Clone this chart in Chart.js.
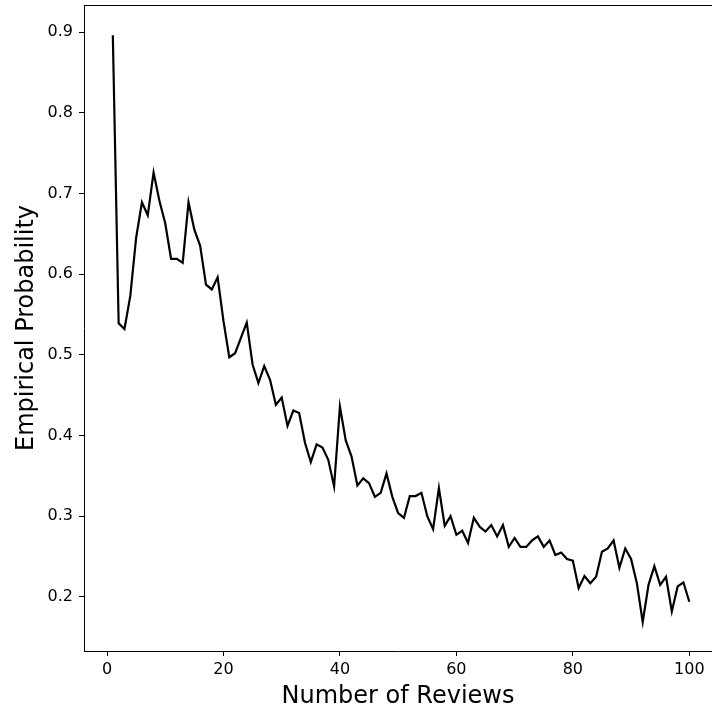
<!DOCTYPE html>
<html>
<head>
<meta charset="UTF-8">
<title>Empirical Probability vs Number of Reviews</title>
<script src="https://cdn.jsdelivr.net/npm/chart.js"></script>
<style>
  html, body { margin: 0; padding: 0; background: #fff; }
  canvas { display: block; }
</style>
</head>
<body>
<canvas id="probChart" width="712" height="714"></canvas>

<script>
    // number of reviews 1..100
    const reviews = [];
    for (let n = 1; n <= 100; n++) reviews.push(n);

    const probability = [
        0.896, 0.539, 0.532, 0.573, 0.645, 0.689, 0.673, 0.726, 0.691, 0.663,
        0.619, 0.619, 0.614, 0.689, 0.655, 0.635, 0.587, 0.581, 0.596, 0.542,
        0.497, 0.502, 0.521, 0.540, 0.488, 0.465, 0.486, 0.469, 0.438, 0.447,
        0.412, 0.431, 0.428, 0.391, 0.367, 0.389, 0.385, 0.370, 0.337, 0.436,
        0.394, 0.374, 0.338, 0.347, 0.341, 0.324, 0.329, 0.353, 0.324, 0.304,
        0.298, 0.325, 0.325, 0.329, 0.300, 0.284, 0.335, 0.288, 0.300, 0.277,
        0.282, 0.267, 0.298, 0.287, 0.281, 0.289, 0.275, 0.289, 0.262, 0.273,
        0.262, 0.262, 0.270, 0.275, 0.262, 0.270, 0.252, 0.255, 0.247, 0.245,
        0.211, 0.226, 0.217, 0.225, 0.256, 0.260, 0.270, 0.236, 0.260, 0.247,
        0.217, 0.169, 0.215, 0.238, 0.215, 0.225, 0.182, 0.213, 0.218, 0.194
    ];

    const xTicks = [0, 20, 40, 60, 80, 100];
    const yTicks = [0.2, 0.3, 0.4, 0.5, 0.6, 0.7, 0.8, 0.9];

    const FONT = 'DejaVu Sans';

    // top spine (the right one runs off the canvas)
    const frame = {
        id: 'frame',
        afterDraw(chart) {
            const { ctx, chartArea: a } = chart;
            ctx.save();
            ctx.strokeStyle = '#000';
            ctx.lineWidth = 1;
            ctx.beginPath();
            ctx.moveTo(a.left, a.top + 0.5);
            ctx.lineTo(a.right, a.top + 0.5);
            ctx.stroke();
            ctx.restore();
        }
    };

    const ctx = document.getElementById('probChart').getContext('2d');
    new Chart(ctx, {
        type: 'line',
        data: {
            datasets: [{
                data: reviews.map((n, i) => ({ x: n, y: probability[i] })),
                borderColor: '#000',
                borderWidth: 2.2,
                pointRadius: 0,
                tension: 0,
                fill: false
            }]
        },
        options: {
            responsive: false,
            animation: false,
            layout: { padding: { top: 5, right: 0, left: 0, bottom: 0 } },
            plugins: {
                legend: { display: false },
                tooltip: { enabled: false }
            },
            scales: {
                x: {
                    type: 'linear',
                    min: -3.95,
                    max: 103.9,
                    afterBuildTicks: s => { s.ticks = xTicks.map(v => ({ value: v })); },
                    afterFit: s => { s.height = 63; s.paddingLeft = 0; s.paddingRight = 0; },
                    grid: { drawOnChartArea: false, drawTicks: true, tickLength: 5, tickColor: '#000', tickWidth: 1 },
                    border: { display: true, color: '#000', width: 1 },
                    ticks: { color: '#000', padding: 4, maxRotation: 0, font: { family: FONT, size: 16 } },
                    title: {
                        display: true,
                        text: 'Number of Reviews',
                        color: '#000',
                        font: { family: FONT, size: 24 },
                        padding: { top: 0, bottom: 3 }
                    }
                },
                y: {
                    type: 'linear',
                    min: 0.133,
                    max: 0.9335,
                    afterBuildTicks: s => { s.ticks = yTicks.map(v => ({ value: v })); },
                    afterFit: s => { s.width = 84; s.paddingTop = 0; s.paddingBottom = 0; },
                    grid: { drawOnChartArea: false, drawTicks: true, tickLength: 5, tickColor: '#000', tickWidth: 1 },
                    border: { display: true, color: '#000', width: 1 },
                    ticks: {
                        color: '#000',
                        padding: 6,
                        font: { family: FONT, size: 16 },
                        callback: v => v.toFixed(1)
                    },
                    title: {
                        display: true,
                        text: 'Empirical Probability',
                        color: '#000',
                        font: { family: FONT, size: 24 },
                        padding: { top: 12, bottom: 0 }
                    }
                }
            }
        },
        plugins: [frame]
    });
</script>
</body>
</html>
